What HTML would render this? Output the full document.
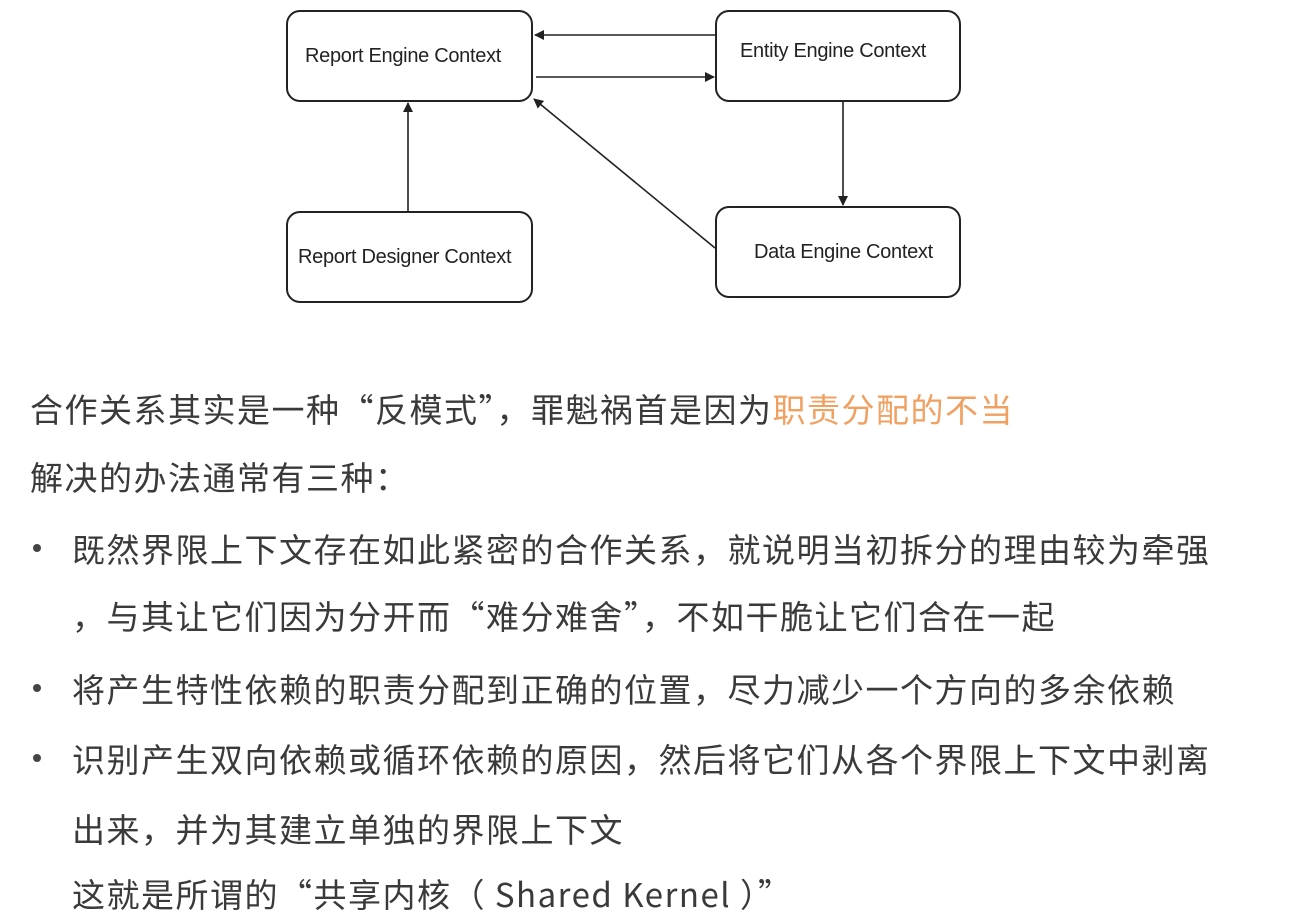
<!DOCTYPE html>
<html><head><meta charset="utf-8"><style>
html,body{margin:0;padding:0;background:#fff;}
body{width:1292px;height:918px;position:relative;overflow:hidden;font-family:"Liberation Sans","Noto Sans CJK SC",sans-serif;}
.box{position:absolute;border:2px solid #222;border-radius:14px;box-sizing:border-box;display:flex;align-items:center;font-size:20px;color:#222;letter-spacing:-0.3px;}
.t{position:absolute;font-size:33px;letter-spacing:1.5px;color:#3a3a3a;white-space:nowrap;font-family:"Noto Sans CJK SC","Liberation Sans",sans-serif;line-height:40px;}
.dot{position:absolute;width:8px;height:8px;border-radius:50%;background:#444;}
</style></head><body>
<svg width="1292" height="320" style="position:absolute;left:0;top:0">
<defs><marker id="a" markerWidth="10" markerHeight="10" refX="9" refY="5" orient="auto" markerUnits="userSpaceOnUse"><path d="M0,0 L10,5 L0,10 z" fill="#222"/></marker></defs>
<g stroke="#222" stroke-width="1.6" fill="none">
<line x1="715" y1="35" x2="535" y2="35" marker-end="url(#a)"/>
<line x1="536" y1="77" x2="714" y2="77" marker-end="url(#a)"/>
<line x1="408" y1="211" x2="408" y2="103" marker-end="url(#a)"/>
<line x1="843" y1="102" x2="843" y2="205" marker-end="url(#a)"/>
<line x1="715" y1="248" x2="534" y2="99" marker-end="url(#a)"/>
</g></svg>
<div class="box" style="left:286px;top:10px;width:247px;height:92px;padding-left:17px">Report Engine Context</div>
<div class="box" style="left:715px;top:10px;width:246px;height:92px;padding-left:23px;padding-bottom:10px">Entity Engine Context</div>
<div class="box" style="left:286px;top:211px;width:247px;height:92px;padding-left:10px">Report Designer Context</div>
<div class="box" style="left:715px;top:206px;width:246px;height:92px;padding-left:37px">Data Engine Context</div>
<div class="t" style="left:30px;top:388px">合作关系其实是一种“反模式”，罪魁祸首是因为<span style="color:#f0a060">职责分配的不当</span></div>
<div class="t" style="left:30px;top:456px">解决的办法通常有三种：</div>
<div class="dot" style="left:33px;top:544px"></div>
<div class="t" style="left:72px;top:528px">既然界限上下文存在如此紧密的合作关系，就说明当初拆分的理由较为牵强</div>
<div class="t" style="left:72px;top:595px">，与其让它们因为分开而“难分难舍”，不如干脆让它们合在一起</div>
<div class="dot" style="left:33px;top:684px"></div>
<div class="t" style="left:72px;top:668px">将产生特性依赖的职责分配到正确的位置，尽力减少一个方向的多余依赖</div>
<div class="dot" style="left:33px;top:754px"></div>
<div class="t" style="left:72px;top:738px">识别产生双向依赖或循环依赖的原因，然后将它们从各个界限上下文中剥离</div>
<div class="t" style="left:72px;top:808px">出来，并为其建立单独的界限上下文</div>
<div class="t" style="left:72px;top:873px">这就是所谓的“共享内核（ Shared Kernel ）”</div>
</body></html>
